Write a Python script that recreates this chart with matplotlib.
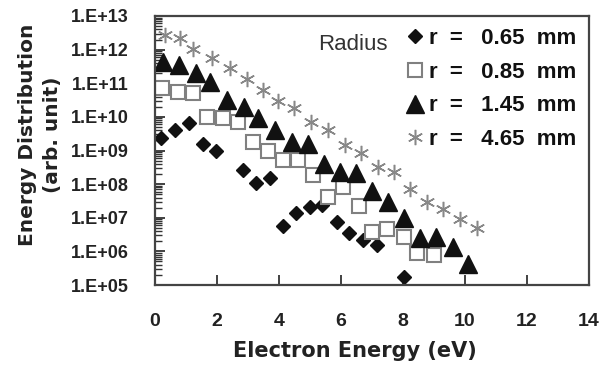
import numpy as np
import matplotlib
matplotlib.use("Agg")
import matplotlib.pyplot as plt
from matplotlib.lines import Line2D
from matplotlib.ticker import LogLocator, FuncFormatter, NullFormatter

# r = 0.65 mm (filled diamonds)
e_065 = [0.19, 0.65, 1.10, 1.55, 1.97, 2.84, 3.26, 3.71, 4.13, 4.55, 5.00,
         5.39, 5.87, 6.26, 6.71, 7.16, 8.03]
d_065 = [2.3e9, 4.1e9, 6.6e9, 1.55e9, 9.8e8, 2.6e8, 1.07e8, 1.5e8, 5.6e6,
         1.4e7, 2.1e7, 2.4e7, 7.4e6, 3.5e6, 2.2e6, 1.55e6, 1.7e5]

# r = 0.85 mm (open squares)
e_085 = [0.23, 0.74, 1.23, 1.68, 2.19, 2.68, 3.16, 3.65, 4.13, 4.61, 5.10,
         5.58, 6.06, 6.58, 7.00, 7.48, 8.03, 8.45, 9.00]
d_085 = [7.2e10, 5.5e10, 5.1e10, 1.0e10, 9.3e9, 7.1e9, 1.8e9, 1.0e9, 5.2e8,
         5.2e8, 1.9e8, 4.2e7, 8.1e7, 2.2e7, 3.8e6, 4.6e6, 2.7e6, 8.9e5, 7.8e5]

# r = 1.45 mm (filled triangles)
e_145 = [0.26, 0.77, 1.32, 1.77, 2.32, 2.87, 3.32, 3.87, 4.42, 4.94, 5.45,
         5.97, 6.48, 7.00, 7.52, 8.03, 8.55, 9.06, 9.61, 10.10]
d_145 = [4.3e11, 3.5e11, 2.0e11, 1.1e11, 3.2e10, 1.95e10, 9.3e9, 4.1e9, 1.8e9,
         1.55e9, 4.0e8, 2.3e8, 2.1e8, 6.3e7, 2.9e7, 9.8e6, 2.5e6, 2.7e6,
         1.35e6, 4.2e5]

# r = 4.65 mm (asterisks)
e_465 = [0.32, 0.81, 1.23, 1.84, 2.42, 2.97, 3.48, 3.97, 4.48, 5.03, 5.58,
         6.13, 6.65, 7.19, 7.71, 8.23, 8.77, 9.29, 9.84, 10.39]
d_465 = [2.7e12, 2.2e12, 1.05e12, 5.6e11, 2.8e11, 1.35e11, 6.3e10, 3.0e10,
         1.8e10, 7.1e9, 4.1e9, 1.45e9, 8.5e8, 3.2e8, 2.3e8, 7.2e7, 2.9e7,
         1.8e7, 9.1e6, 5.0e6]

labels = ["r  =   0.65  mm", "r  =   0.85  mm", "r  =   1.45  mm", "r  =   4.65  mm"]
x_ticks = [0, 2, 4, 6, 8, 10, 12, 14]

W, H = 613, 367
fig = plt.figure(figsize=(W / 100, H / 100), dpi=100)
ax = fig.add_axes([155 / W, (H - 285) / H, 434 / W, 269 / H])

GRAY = "#888888"
BLACK = "#111111"
styles = [
    dict(marker="D", ms=7, color=BLACK, mec=BLACK),
    dict(marker="s", ms=10, mfc="white", mec="#808080", mew=1.5),
    dict(marker="^", ms=12.5, color=BLACK, mec=BLACK),
    dict(marker=(6, 2, 0), ms=11, color=GRAY, mec=GRAY, mew=1.1),
]
series = [(e_065, d_065), (e_085, d_085), (e_145, d_145), (e_465, d_465)]

for (x, y), st in zip(series, styles):
    ax.plot(x, y, ls="none", **st)

ax.set_yscale("log")
ax.set_xlim(0, 14)
ax.set_ylim(1e5, 1e13)
ax.set_xticks(x_ticks)
ax.yaxis.set_major_locator(LogLocator(base=10, numticks=20))
ax.yaxis.set_minor_locator(LogLocator(base=10, subs=np.arange(2, 10), numticks=20))
ax.yaxis.set_minor_formatter(NullFormatter())
ax.yaxis.set_major_formatter(
    FuncFormatter(lambda v, _: f"1.E+{int(round(np.log10(v))):02d}"))

ax.tick_params(axis="x", direction="in", length=7, width=1.3, color="#333333",
               pad=20, labelsize=14)
ax.tick_params(axis="y", which="major", direction="in", length=7, width=1.3,
               color="#333333", pad=19, labelsize=13)
ax.tick_params(axis="y", which="minor", direction="in", length=5, width=1.0,
               color="#333333")
for lab in ax.get_xticklabels() + ax.get_yticklabels():
    lab.set_fontfamily("Liberation Sans")
    lab.set_fontweight("bold")
    lab.set_color("#222222")

for sp in ax.spines.values():
    sp.set_color("#444444")
    sp.set_linewidth(1.6)

fig.text(40 / W, 1 - 135 / H, "Energy Distribution\n(arb. unit)", rotation=90,
         ha="center", va="center", multialignment="center", linespacing=1.45,
         fontsize=14.5, fontweight="bold", family="DejaVu Sans", color="#222222")
fig.text(355 / W, 1 - 351 / H, "Electron Energy (eV)", ha="center", va="center",
         fontsize=15, fontweight="bold", family="DejaVu Sans", color="#222222")

fig.text(318 / W, 1 - 44 / H, "Radius", ha="left", va="center", fontsize=16,
         family="Liberation Sans", color="#333333")

handles = [Line2D([], [], ls="none", **st) for st in styles]
leg = ax.legend(handles, labels, loc="upper left",
                bbox_to_anchor=(406 / W, 1 - 28 / H), bbox_transform=fig.transFigure,
                frameon=False, borderpad=0, borderaxespad=0, handlelength=0.8,
                handletextpad=0.25, labelspacing=0.57,
                prop=dict(family="Liberation Sans", weight="bold", size=16))
for t in leg.get_texts():
    t.set_color("#111111")

fig.savefig("out.png", dpi=100)
